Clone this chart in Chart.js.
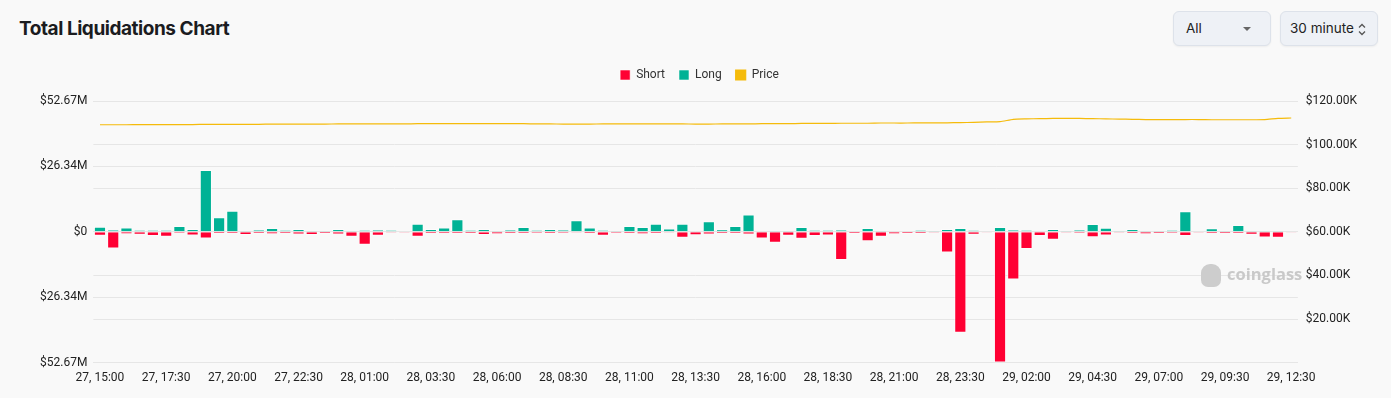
<!DOCTYPE html>
<html>
<head>
<meta charset="utf-8">
<script src="https://cdn.jsdelivr.net/npm/chart.js@4.4.1/dist/chart.umd.min.js"></script>
<style>
  html, body { margin:0; padding:0; background:#f9f9f9; width:1391px; height:398px; overflow:hidden; font-family:Inter, "Noto Sans", sans-serif; }
  .title { position:absolute; left:19px; top:17px; font-size:19px; font-weight:700; color:#1b1c1f; letter-spacing:-0.45px; }
  .sel { position:absolute; top:11px; height:35px; box-sizing:border-box; border:1px solid #dde2ea; border-radius:6px; background:#eef1f6; font-size:13.5px; color:#222; line-height:33px; box-shadow:0 1px 2px rgba(0,0,0,0.05); }
  .caret { position:absolute; right:19px; top:15px; width:0; height:0; border-left:4px solid transparent; border-right:4px solid transparent; border-top:4px solid #666; }
  .updown { position:absolute; right:11px; top:11px; }
  #wrap { position:absolute; left:0; top:55px; width:1391px; height:330px; }
  .wm { position:absolute; left:1227px; top:262px; font-size:16.5px; font-weight:700; color:#c9c9c9; font-family:"Open Sans", sans-serif; }
  .wmicon { position:absolute; left:1201px; top:264px; width:20px; height:23px; border-radius:9px 9px 7px 7px; background:#cdcdcd; }
</style>
</head>
<body>
<div class="title">Total Liquidations Chart</div>
<div class="sel" style="left:1173px; width:98px; padding-left:12px;">All<span class="caret"></span></div>
<div class="sel" style="left:1280px; width:98px; padding-left:9px;">30 minute
  <svg class="updown" width="8" height="13" viewBox="0 0 8 13"><path d="M1 4.5 L4 1.5 L7 4.5 M1 8.5 L4 11.5 L7 8.5" fill="none" stroke="#555" stroke-width="1.3"/></svg>
</div>
<div id="wrap"><canvas id="chartLiq"></canvas></div>
<div class="wmicon"></div>
<div class="wm">coinglass</div>
<script>
// values in $M, price in $K, one entry per 30 minute bar
const longVals = [2.0,0.9,1.7,0.7,0.7,0.7,2.3,1.1,24.9,5.9, 8.5,0.4,0.9,1.5,0.7,1.1,0.4,0.4,1.1,0.5,
  0.7,0.9,0.7,0.2,3.2,1.1,1.7,5.1,0.7,1.1, 0.5,0.9,1.9,0.7,1.1,0.8,4.7,1.7,0.7,0.4,
  2.3,1.9,3.2,1.3,3.2,0.3,4.2,1.0,2.3,7.0, 0.2,0.5,0.5,1.9,0.7,0.7,0.9,0.3,1.5,0.5,
  0.3,0.3,0.7,0.5,1.1,1.5,0.6,0.2,1.9,0.9, 0.7,0.2,1.1,0.4,0.9,3.1,1.6,0.5,1.1,0.4,
  0.5,0.7,8.3,0.3,1.4,0.5,2.7,0.1,0.5,0.5, 0.3];
const shortVals = [1.6,6.7,0.9,1.2,1.7,2.0,0.5,1.5,2.7,0.8, 0.8,1.3,0.8,0.9,0.7,1.1,1.3,0.8,1.1,2.0,
  5.2,1.6,0.4,0.4,2.0,0.7,0.7,0.8,0.8,1.3, 0.9,0.7,0.8,0.5,0.8,0.5,0.4,0.7,1.6,0.5,
  0.7,0.9,0.8,0.4,2.4,1.4,1.1,0.7,0.8,1.1, 2.7,4.4,1.6,2.8,1.7,1.5,11.4,0.8,3.8,2.0,
  0.9,0.8,0.8,0.4,8.3,40.6,1.2,0.3,52.67,19.2, 6.9,1.7,3.2,0.4,0.5,2.2,1.5,0.4,0.7,0.9,
  0.7,0.5,1.7,0.4,0.7,0.7,0.8,1.2,2.3,2.4, 0.3];
const priceVals = [109.1,109.1,109.1,109.2,109.2,109.2,109.2,109.2,109.3,109.3, 109.3,109.3,109.3,109.4,109.4,109.4,109.4,109.4,109.5,109.5,
  109.5,109.5,109.5,109.5,109.6,109.6,109.6,109.6,109.6,109.6, 109.6,109.6,109.6,109.5,109.5,109.4,109.4,109.4,109.5,109.5,
  109.5,109.5,109.5,109.5,109.5,109.4,109.4,109.5,109.5,109.5, 109.6,109.6,109.6,109.7,109.7,109.7,109.8,109.8,109.8,109.9,
  109.9,109.9,110.0,110.0,110.0,110.1,110.2,110.4,110.5,111.6, 111.8,111.9,112.0,112.0,112.0,111.9,111.8,111.7,111.6,111.5,
  111.5,111.5,111.5,111.5,111.4,111.4,111.4,111.4,111.5,112.0, 112.2];
const leftTicks = [-52.67, -26.34, 0, 26.34, 52.67];
const rightTicks = [0, 20, 40, 60, 80, 100, 120];

// time labels, 30 minute steps from 27, 15:00; the feed jumps to 12:30 on the last bar
const timeLabels = [];
for (let i = 0; i < 90; i++) {
  const m = 15*60 + i*30;
  const d = 27 + Math.floor(m / 1440), mm = m % 1440;
  timeLabels.push(d + ', ' + String(Math.floor(mm/60)).padStart(2,'0') + ':' + String(mm%60).padStart(2,'0'));
}
timeLabels.push('29, 12:30');

const tickFont = { family:'Roboto, sans-serif', size:12 };
const gridDash = { color:'#e6e6e6', lineWidth:1, drawTicks:false, borderDash:[4,4] };

// a bit more room between legend and plot
const legendGap = {
  id:'legendGap',
  beforeInit(chart){
    const fit = chart.legend.fit;
    chart.legend.fit = function(){ fit.bind(chart.legend)(); this.height += 10; };
  }
};

new Chart(document.getElementById('chartLiq').getContext('2d'), {
  data: {
    labels: timeLabels,
    datasets: [
      { type:'bar', label:'Short', data: shortVals.map(v=>-v), backgroundColor:'#ff0033', borderColor:'rgba(255,255,255,0.55)', borderWidth:1, yAxisID:'y' },
      { type:'bar', label:'Long', data: longVals, backgroundColor:'#00b295', borderColor:'rgba(255,255,255,0.55)', borderWidth:1, yAxisID:'y' },
      { type:'line', label:'Price', data: priceVals, borderColor:'#f5bb0b', backgroundColor:'#f5bb0b', borderWidth:1.2, pointRadius:0, tension:0.2, yAxisID:'y1' }
    ]
  },
  options: {
    responsive:true, maintainAspectRatio:false, animation:false,
    layout:{ padding:{ left:34, right:26, top:0, bottom:0 } },
    datasets:{ bar:{ categoryPercentage:1, barPercentage:0.92 } },
    plugins:{
      tooltip:{ enabled:false },
      legend:{ position:'top', labels:{ boxWidth:10, boxHeight:10, color:'#333', font:{ family:'Roboto, sans-serif', size:12 }, padding:14 } }
    },
    scales:{
      x:{ stacked:true, grid:{ display:false }, border:{ display:false },
          ticks:{ autoSkip:false, maxRotation:0, color:'#222', font:tickFont, padding:0,
                  callback:(v,i)=> (i%5===0 || i===timeLabels.length-1) ? timeLabels[i] : '' } },
      y:{ stacked:true, position:'left', min:-52.67, max:52.67, border:{ display:false },
          grid:gridDash,
          afterBuildTicks:(ax)=>{ ax.ticks = leftTicks.map(v=>({ value:v })); },
          ticks:{ color:'#222', font:tickFont, padding:6,
                  callback:(v)=> v===0 ? '$0' : '$' + Math.abs(v).toFixed(2) + 'M' } },
      y1:{ position:'right', min:0, max:120, border:{ display:false },
           grid:gridDash,
           afterBuildTicks:(ax)=>{ ax.ticks = rightTicks.map(v=>({ value:v })); },
           ticks:{ color:'#222', font:tickFont, padding:8,
                   callback:(v)=> v===0 ? '' : '$' + v.toFixed(2) + 'K' } }
    }
  },
  plugins:[legendGap]
});
</script>
</body>
</html>
